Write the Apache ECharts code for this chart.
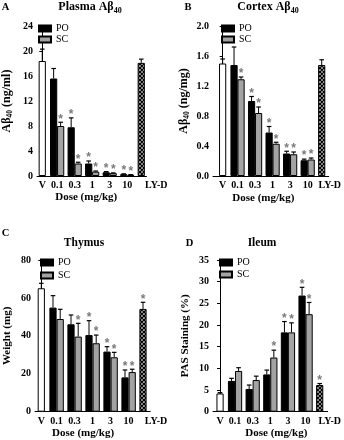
<!DOCTYPE html>
<html><head><meta charset="utf-8">
<script src="https://cdn.jsdelivr.net/npm/echarts@6/dist/echarts.min.js"></script>
<style>html,body{margin:0;padding:0;background:#fff}#c{width:344px;height:440px}</style>
</head><body><div id="c"></div>
<script>
// ---------- DATA ----------
const categories = ['V', '0.1', '0.3', '1', '3', '10', 'LY-D'];
const seriesNames = ['PO', 'SC'];

// Panel A: Plasma Aβ40 (ng/ml)
const plasmaTicks = [0, 4, 8, 12, 16, 20, 24];
const plasmaVehicle = 18.4, plasmaVehicleErr = 1.9;
const plasmaPO = [15.6, 7.8, 2.0, 0.6, 0.3];
const plasmaPOErr = [1.6, 1.5, 0.4, 0.1, 0.05];
const plasmaSC = [8.0, 2.0, 0.7, 0.45, 0.2];
const plasmaSCErr = [0.6, 0.2, 0.1, 0.05, 0.03];
const plasmaLYD = 18.1, plasmaLYDErr = 0.6;
const plasmaPOStar = [0, 1, 1, 1, 1];
const plasmaSCStar = [1, 1, 1, 1, 1];
const plasmaLYDStar = 0;

// Panel B: Cortex Aβ40 (ng/mg)
const cortexTicks = [0, 0.4, 0.8, 1.2, 1.6, 2.0];
const cortexVehicle = 1.50, cortexVehicleErr = 0.06;
const cortexPO = [1.48, 1.00, 0.58, 0.30, 0.21];
const cortexPOErr = [0.24, 0.06, 0.08, 0.03, 0.015];
const cortexSC = [1.29, 0.84, 0.43, 0.29, 0.22];
const cortexSCErr = [0.03, 0.08, 0.02, 0.03, 0.02];
const cortexLYD = 1.48, cortexLYDErr = 0.07;
const cortexPOStar = [0, 1, 1, 1, 1];
const cortexSCStar = [1, 1, 1, 1, 1];
const cortexLYDStar = 0;

// Panel C: Thymus weight (mg)
const thymusTicks = [0, 20, 40, 60, 80];
const thymusVehicle = 65.1, thymusVehicleErr = 2.6;
const thymusPO = [54.9, 46.1, 40.4, 31.7, 18.1];
const thymusPOErr = [6.3, 4.9, 7.6, 2.6, 3.9];
const thymusSC = [48.9, 39.6, 36.1, 28.7, 20.9];
const thymusSCErr = [5.1, 7.0, 4.3, 2.6, 1.5];
const thymusLYD = 54.2, thymusLYDErr = 3.5;
const thymusPOStar = [0, 0, 1, 1, 1];
const thymusSCStar = [0, 1, 1, 1, 1];
const thymusLYDStar = 1;

// Panel D: Ileum PAS staining (%)
const ileumTicks = [0, 5, 10, 15, 20, 25, 30, 35];
const ileumVehicle = 4.2, ileumVehicleErr = 0.2;
const ileumPO = [7.1, 5.25, 8.6, 18.3, 26.8];
const ileumPOErr = [0.6, 0.9, 1.0, 2.5, 1.9];
const ileumSC = [9.4, 7.3, 12.5, 18.3, 22.5];
const ileumSCErr = [0.75, 0.9, 1.7, 2.2, 2.7];
const ileumLYD = 6.15, ileumLYDErr = 0.35;
const ileumPOStar = [0, 0, 0, 1, 1];
const ileumSCStar = [0, 0, 1, 1, 1];
const ileumLYDStar = 1;

// ---------- LAYOUT ----------
const SERIF = '"Liberation Serif", "Times New Roman", serif';
const UNIT = 3.6;               // px per position unit
const BAR_W = 7.2;
const TICK_FS = 10;
// slot positions (in units) for each category on the hidden value axis
const posOf = (ci) => ci === 0 ? 0 : (ci === 6 ? 28.25 : 4.25 + 5 * (ci - 1));
const posPO = (k) => posOf(k + 1) - 1;
const posSC = (k) => posOf(k + 1) + 1;
const labelIndex = {};
categories.forEach((c, i) => { labelIndex[Math.round(posOf(i) * 100)] = i; });

const panels = [
  { left: 34, top: 26, height: 150, xMin: -1.5, xMax: 29.75, ticks: plasmaTicks, dec: 0,
    name: '{a|Aβ}{s|40}{a| (ng/ml)}', nameGap: 23, nameSize: 12, labelMargin: 4, xNameGap: 16, xNamePad: [0, 11, 0, 0],
    lydShift: 15, legend: { left: 38, top: 23.5, gap: 1 },
    V: plasmaVehicle, VE: plasmaVehicleErr, PO: plasmaPO, POE: plasmaPOErr, SC: plasmaSC, SCE: plasmaSCErr,
    L: plasmaLYD, LE: plasmaLYDErr, POS: plasmaPOStar, SCS: plasmaSCStar, LS: plasmaLYDStar },
  { left: 213, top: 26, height: 150, xMin: -2.75, xMax: 30.25, ticks: cortexTicks, dec: 1,
    name: '{a|Aβ}{s|40}{a| (ng/mg)}', nameGap: 22, nameSize: 12, labelMargin: 4, xNameGap: 17, xNamePad: [0, 15, 0, 0],
    lydShift: 8, legend: { left: 221, top: 23.5, gap: 1 },
    V: cortexVehicle, VE: cortexVehicleErr, PO: cortexPO, POE: cortexPOErr, SC: cortexSC, SCE: cortexSCErr,
    L: cortexLYD, LE: cortexLYDErr, POS: cortexPOStar, SCS: cortexSCStar, LS: cortexLYDStar },
  { left: 35, top: 260, height: 151.7, xMin: -1.75, xMax: 30.25, ticks: thymusTicks, dec: 0,
    name: '{a|Weight (mg)}', nameGap: 21, nameSize: 11, labelMargin: 5, xNameGap: 14, xNamePad: [0, 19, 0, 0],
    lydShift: 13, legend: { left: 40, top: 257.5, gap: 3 },
    V: thymusVehicle, VE: thymusVehicleErr, PO: thymusPO, POE: thymusPOErr, SC: thymusSC, SCE: thymusSCErr,
    L: thymusLYD, LE: thymusLYDErr, POS: thymusPOStar, SCS: thymusSCStar, LS: thymusLYDStar },
  { left: 213, top: 260, height: 151.7, xMin: -2, xMax: 30.5, ticks: ileumTicks, dec: 0,
    name: '{a|PAS Staining (%)}', nameGap: 21, nameSize: 11, labelMargin: 5, xNameGap: 14, xNamePad: [0, 0, 0, 12],
    lydShift: 10, legend: { left: 219, top: 257.5, gap: 2 },
    V: ileumVehicle, VE: ileumVehicleErr, PO: ileumPO, POE: ileumPOErr, SC: ileumSC, SCE: ileumSCErr,
    L: ileumLYD, LE: ileumLYDErr, POS: ileumPOStar, SCS: ileumSCStar, LS: ileumLYDStar }
];

// cross-hatch pattern for LY-D
const pat = document.createElement('canvas');
pat.width = 4; pat.height = 4;
(function () {
  const g = pat.getContext('2d');
  g.fillStyle = '#fff'; g.fillRect(0, 0, 4, 4);
  g.strokeStyle = '#000'; g.lineWidth = 1.4;
  g.beginPath();
  [-4, 0, 4].forEach(c => { g.moveTo(-1, -1 + c); g.lineTo(5, 5 + c); });
  [0, 4, 8].forEach(c => { g.moveTo(-1, c + 1); g.lineTo(5, c - 5); });
  g.stroke();
})();

const grids = [], xAxes = [], yAxes = [], series = [], legends = [];
panels.forEach((p, i) => {
  grids.push({ left: p.left, top: p.top, height: p.height, width: (p.xMax - p.xMin) * UNIT });
  xAxes.push({
    type: 'value', gridIndex: i, min: p.xMin, max: p.xMax, interval: 0.25,
    axisLine: { show: true, onZero: false, lineStyle: { color: '#000', width: 1 } },
    axisTick: { show: false }, splitLine: { show: false },
    axisLabel: {
      margin: p.labelMargin, fontFamily: SERIF, fontWeight: 'bold', fontSize: TICK_FS, color: '#000',
      formatter: (v) => {
        const ci = labelIndex[Math.round(v * 100)];
        if (ci === undefined) return '';
        return ci === 6 ? '{l|' + categories[ci] + '}' : categories[ci];
      },
      rich: { l: { fontFamily: SERIF, fontWeight: 'bold', fontSize: TICK_FS, color: '#000', padding: [0, 0, 0, 2 * p.lydShift] } }
    },
    name: 'Dose (mg/kg)', nameLocation: 'middle', nameGap: p.xNameGap,
    nameTextStyle: { fontFamily: SERIF, fontWeight: 'bold', fontSize: 11, color: '#000', padding: p.xNamePad }
  });
  const t = p.ticks;
  yAxes.push({
    type: 'value', gridIndex: i, min: t[0], max: t[t.length - 1], interval: t[1] - t[0],
    axisLine: { show: true, lineStyle: { color: '#000', width: 1 } },
    axisTick: { show: true, length: 3, lineStyle: { color: '#000' } },
    splitLine: { show: false },
    axisLabel: { margin: 4, fontFamily: SERIF, fontWeight: 'bold', fontSize: TICK_FS, color: '#000',
      formatter: (v) => v.toFixed(p.dec) },
    name: p.name, nameLocation: 'middle', nameGap: p.nameGap,
    nameTextStyle: {
      color: '#000',
      rich: {
        a: { fontFamily: SERIF, fontWeight: 'bold', fontSize: p.nameSize, lineHeight: 14, color: '#000' },
        s: { fontFamily: SERIF, fontWeight: 'bold', fontSize: 7.5, lineHeight: 8, verticalAlign: 'bottom', color: '#000' }
      }
    }
  });
  const common = { type: 'bar', xAxisIndex: i, yAxisIndex: i, barWidth: BAR_W, barGap: '-100%', z: 2 };
  series.push(Object.assign({}, common, { name: 'Vehicle', data: [[posOf(0), p.V]],
    itemStyle: { color: '#fff', borderColor: '#000', borderWidth: 1 } }));
  series.push(Object.assign({}, common, { name: 'PO', data: p.PO.map((v, k) => [posPO(k), v]),
    itemStyle: { color: '#000', borderColor: '#000', borderWidth: 1 } }));
  series.push(Object.assign({}, common, { name: 'SC', data: p.SC.map((v, k) => [posSC(k), v]),
    itemStyle: { color: '#a3a3a3', borderColor: '#000', borderWidth: 1 } }));
  series.push(Object.assign({}, common, { name: 'LY-D', data: [[posOf(6), p.L]],
    itemStyle: { color: { image: pat, repeat: 'repeat' }, borderColor: '#000', borderWidth: 1 } }));
  const errData = [[posOf(0), p.V, p.VE, 0]]
    .concat(p.PO.map((v, k) => [posPO(k), v, p.POE[k], p.POS[k]]))
    .concat(p.SC.map((v, k) => [posSC(k), v, p.SCE[k], p.SCS[k]]))
    .concat([[posOf(6), p.L, p.LE, p.LS]]);
  series.push({
    type: 'custom', name: 'err' + i, xAxisIndex: i, yAxisIndex: i, z: 5, silent: true,
    encode: { x: 0, y: 1 }, data: errData,
    renderItem: (params, api) => {
      const x = api.value(0), y = api.value(1), e = api.value(2), s = api.value(3);
      const p0 = api.coord([x, y]);
      const p1 = api.coord([x, y + e]);
      const ch = [
        { type: 'line', shape: { x1: p0[0], y1: p0[1], x2: p1[0], y2: p1[1] }, style: { stroke: '#000', lineWidth: 1 } },
        { type: 'line', shape: { x1: p1[0] - 2.3, y1: p1[1], x2: p1[0] + 2.3, y2: p1[1] }, style: { stroke: '#000', lineWidth: 1.2 } }
      ];
      if (s) ch.push({ type: 'text', x: p1[0], y: p1[1] - 3,
        style: { text: '*', fill: '#7a7a7a', font: 'bold 12px "Liberation Sans", Arial, sans-serif', align: 'center', verticalAlign: 'middle' } });
      return { type: 'group', children: ch };
    }
  });
  legends.push({
    data: seriesNames, left: p.legend.left, top: p.legend.top, orient: 'vertical', icon: 'rect',
    itemWidth: 12, itemHeight: 6, itemGap: p.legend.gap, padding: 0, selectedMode: false,
    textStyle: { fontFamily: SERIF, fontSize: 10, color: '#000', lineHeight: 10 }
  });
});

const titleRich = {
  t: { fontFamily: SERIF, fontWeight: 'bold', fontSize: 12, lineHeight: 15, fill: '#000' },
  s: { fontFamily: SERIF, fontWeight: 'bold', fontSize: 8, lineHeight: 8, verticalAlign: 'bottom', fill: '#000' }
};
const txt = (text, x, y, size) => ({ type: 'text', x: x, y: y, silent: true,
  style: { text: text, fill: '#000', font: 'bold ' + size + 'px ' + SERIF, align: 'center', verticalAlign: 'middle' } });
const richTxt = (text, x, y) => ({ type: 'text', x: x, y: y, silent: true,
  style: { text: text, rich: titleRich, fill: '#000', align: 'center', verticalAlign: 'middle' } });

const option = {
  animation: false,
  backgroundColor: '#fff',
  grid: grids, xAxis: xAxes, yAxis: yAxes, series: series, legend: legends,
  graphic: [
    txt('A', 5.5, 7, 10.5), richTxt('{t|Plasma Aβ}{s|40}', 90, 7),
    txt('B', 188, 7, 10.5), richTxt('{t|Cortex Aβ}{s|40}', 268, 7),
    txt('C', 5.5, 233, 10.5), txt('Thymus', 84, 243, 11.5),
    txt('D', 189.5, 243, 10.5), txt('Ileum', 262, 243, 11.5)
  ]
};
const chart = echarts.init(document.getElementById('c'), null, { renderer: 'canvas' });
chart.setOption(option);
</script>
</body></html>
